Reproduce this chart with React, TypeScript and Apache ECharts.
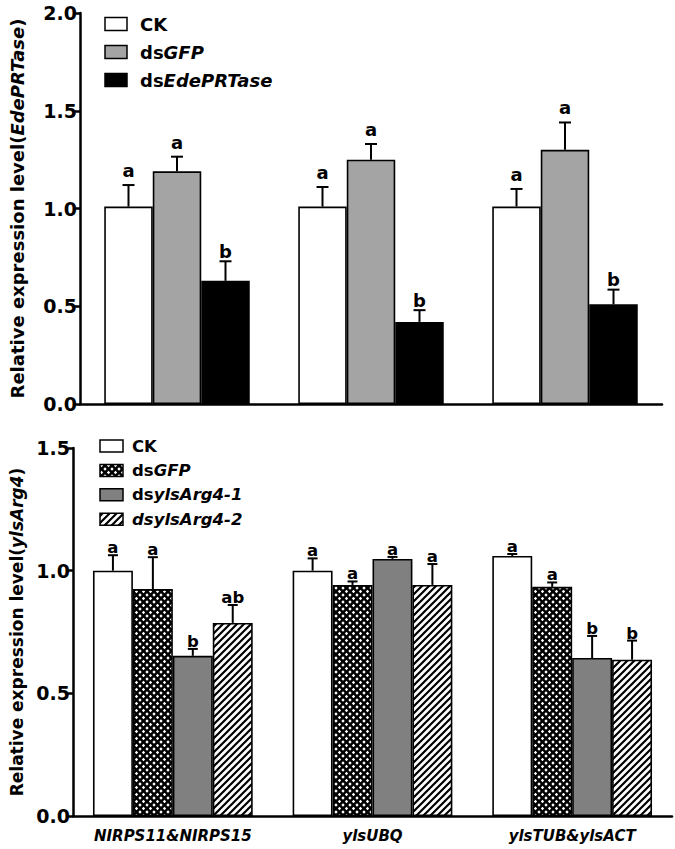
import React, { useEffect, useRef } from 'react';
import * as echarts from 'echarts';

// ---------- Data ----------
const topCategories = ['Group 1', 'Group 2', 'Group 3'];
const topSeriesNames = ['CK', 'dsGFP', 'dsEdePRTase'];
const topLegendLabels = ['{n|CK}', '{n|ds}{i|GFP}', '{n|ds}{i|EdePRTase}'];
const topCK = [1.01, 1.01, 1.01];
const topCKErr = [0.11, 0.1, 0.09];
const topGFP = [1.19, 1.25, 1.3];
const topGFPErr = [0.075, 0.08, 0.14];
const topEde = [0.63, 0.42, 0.51];
const topEdeErr = [0.1, 0.06, 0.075];
const topCKLetters = ['a', 'a', 'a'];
const topGFPLetters = ['a', 'a', 'a'];
const topEdeLetters = ['b', 'b', 'b'];
const topYTicks = [0, 0.5, 1.0, 1.5, 2.0];

const bottomCategories = ['NIRPS11&NIRPS15', 'ylsUBQ', 'ylsTUB&ylsACT'];
const bottomSeriesNames = ['CK', 'dsGFP', 'dsylsArg4-1', 'dsylsArg4-2'];
const bottomLegendLabels = ['{n|CK}', '{n|ds}{i|GFP}', '{n|ds}{i|ylsArg4-1}', '{i|dsylsArg4-2}'];
const botCK = [1.0, 1.0, 1.06];
const botCKErr = [0.063, 0.05, 0.008];
const botGFP = [0.925, 0.942, 0.934];
const botGFPErr = [0.13, 0.014, 0.018];
const botArg1 = [0.653, 1.048, 0.644];
const botArg1Err = [0.028, 0.008, 0.09];
const botArg2 = [0.787, 0.942, 0.637];
const botArg2Err = [0.073, 0.085, 0.078];
const botCKLetters = ['a', 'a', 'a'];
const botGFPLetters = ['a', 'a', 'a'];
const botArg1Letters = ['b', 'a', 'b'];
const botArg2Letters = ['ab', 'a', 'b'];
const bottomYTicks = [0, 0.5, 1.0, 1.5];

const FONT = '"DejaVu Sans", sans-serif';

function makePattern(kind: string) {
  const s = 7;
  const c = document.createElement('canvas');
  c.width = s;
  c.height = s;
  const ctx = c.getContext('2d') as CanvasRenderingContext2D;
  if (kind === 'cross') {
    ctx.fillStyle = '#000';
    ctx.fillRect(0, 0, s, s);
    ctx.fillStyle = '#fff';
    const r = 1.7;
    const pts = [[0, 0], [s, 0], [0, s], [s, s], [s / 2, s / 2]];
    pts.forEach(([px, py]) => {
      ctx.beginPath();
      ctx.moveTo(px, py - r);
      ctx.lineTo(px + r, py);
      ctx.lineTo(px, py + r);
      ctx.lineTo(px - r, py);
      ctx.closePath();
      ctx.fill();
    });
  } else {
    ctx.fillStyle = '#fff';
    ctx.fillRect(0, 0, s, s);
    ctx.strokeStyle = '#000';
    ctx.lineWidth = 2.2;
    ctx.beginPath();
    ctx.moveTo(-1, s + 1);
    ctx.lineTo(s + 1, -1);
    ctx.moveTo(-2, 2);
    ctx.lineTo(2, -2);
    ctx.moveTo(s - 2, s + 2);
    ctx.lineTo(s + 2, s - 2);
    ctx.stroke();
  }
  return { image: c, repeat: 'repeat', imageWidth: s, imageHeight: s } as any;
}

export default function App() {
  const ref = useRef<HTMLDivElement>(null);

  useEffect(() => {
    if (!ref.current) return;
    const chart = echarts.init(ref.current, null, { renderer: 'svg' });

    const crossPat = makePattern('cross');
    const stripePat = makePattern('stripe');

    const topColors = ['#ffffff', '#a4a4a4', '#000000'];
    const botColors = ['#ffffff', crossPat, '#808080', stripePat];

    const topVals = [topCK, topGFP, topEde];
    const topErrs = [topCKErr, topGFPErr, topEdeErr];
    const topLetters = [topCKLetters, topGFPLetters, topEdeLetters];
    const botVals = [botCK, botGFP, botArg1, botArg2];
    const botErrs = [botCKErr, botGFPErr, botArg1Err, botArg2Err];
    const botLetters = [botCKLetters, botGFPLetters, botArg1Letters, botArg2Letters];

    const richStyles = (size: number) => ({
      n: { fontFamily: FONT, fontWeight: 'bold', fontSize: size, color: '#000' },
      i: { fontFamily: FONT, fontWeight: 'bold', fontStyle: 'italic', fontSize: size, color: '#000' },
    });

    const makeErrSeries = (
      axisIdx: number,
      i: number,
      n: number,
      catGap: number,
      vals: number[],
      errs: number[],
      letters: string[],
      cap: number,
      letterSize: number,
      gapFn: (l: string) => number
    ) => ({
      type: 'custom',
      xAxisIndex: axisIdx,
      yAxisIndex: axisIdx,
      silent: true,
      z: 10,
      encode: { x: 0, y: 1 },
      data: vals.map((v, k) => [k, v, errs[k]]),
      renderItem: (params: any, api: any) => {
        const cat = api.value(0);
        const val = api.value(1);
        const err = api.value(2);
        const band = api.size([1, 0])[0];
        const bw = (band * (1 - catGap)) / n;
        const x = api.coord([cat, 0])[0] + (i - (n - 1) / 2) * bw;
        const yTop = api.coord([cat, val])[1];
        const yErr = api.coord([cat, val + err])[1];
        const letter = letters[params.dataIndex];
        return {
          type: 'group',
          children: [
            { type: 'line', shape: { x1: x, y1: yTop, x2: x, y2: yErr }, style: { stroke: '#000', lineWidth: 2 } },
            { type: 'line', shape: { x1: x - cap / 2, y1: yErr, x2: x + cap / 2, y2: yErr }, style: { stroke: '#000', lineWidth: 2 } },
            {
              type: 'text',
              x,
              y: yErr - gapFn(letter) + letterSize * 0.24,
              style: {
                text: letter,
                fill: '#000',
                font: `bold ${letterSize}px ${FONT}`,
                align: 'center',
                verticalAlign: 'bottom',
              },
            },
          ],
        };
      },
    });

    const series: any[] = [];
    topVals.forEach((vals, i) => {
      series.push({
        name: topSeriesNames[i],
        type: 'bar',
        xAxisIndex: 0,
        yAxisIndex: 0,
        data: vals,
        barGap: '0%',
        barCategoryGap: '25%',
        silent: true,
        itemStyle: { color: topColors[i], borderColor: '#000', borderWidth: 1.6 },
      });
    });
    topVals.forEach((vals, i) => {
      series.push(
        makeErrSeries(0, i, 3, 0.25, vals, topErrs[i], topLetters[i], 12, 18, (l) => (l === 'a' ? 10 : 5))
      );
    });
    botVals.forEach((vals, i) => {
      series.push({
        name: bottomSeriesNames[i],
        type: 'bar',
        xAxisIndex: 1,
        yAxisIndex: 1,
        data: vals,
        barGap: '0%',
        barCategoryGap: '20%',
        silent: true,
        itemStyle: { color: botColors[i], borderColor: '#000', borderWidth: 1.6 },
      });
    });
    botVals.forEach((vals, i) => {
      series.push(makeErrSeries(1, i, 4, 0.2, vals, botErrs[i], botLetters[i], 10, 16.5, () => 3));
    });

    const axisLine = { show: true, lineStyle: { color: '#000', width: 2.5 } };
    const yLabel = {
      color: '#000',
      fontFamily: FONT,
      fontWeight: 'bold',
      fontSize: 19,
      margin: 3,
      formatter: (v: number) => v.toFixed(1),
    };

    const graphics: any[] = [];
    topLegendLabels.forEach((lab, i) => {
      const cy = 24 + i * 28;
      graphics.push({
        type: 'rect',
        shape: { x: 105, y: cy - 6.5, width: 22, height: 13 },
        style: { fill: topColors[i], stroke: '#000', lineWidth: 1.5 },
      });
      graphics.push({
        type: 'text',
        x: 140,
        y: cy,
        style: { text: lab, rich: richStyles(18), verticalAlign: 'middle', align: 'left' },
      });
    });
    bottomLegendLabels.forEach((lab, i) => {
      const cy = 446 + i * 24.4;
      graphics.push({
        type: 'rect',
        shape: { x: 100, y: cy - 6, width: 23, height: 12 },
        style: { fill: botColors[i], stroke: '#000', lineWidth: 1.5 },
      });
      graphics.push({
        type: 'text',
        x: 132,
        y: cy,
        style: { text: lab, rich: richStyles(16.5), verticalAlign: 'middle', align: 'left' },
      });
    });

    chart.setOption({
      animation: false,
      backgroundColor: '#fff',
      grid: [
        { left: 72, right: 13, top: 13, bottom: 445 },
        { left: 72, right: 3, top: 448, bottom: 33 },
      ],
      xAxis: [
        {
          type: 'category',
          gridIndex: 0,
          data: topCategories,
          axisLine,
          axisTick: { show: false },
          axisLabel: { show: false },
        },
        {
          type: 'category',
          gridIndex: 1,
          data: bottomCategories,
          axisLine,
          axisTick: { show: false },
          axisLabel: {
            interval: 0,
            color: '#000',
            fontFamily: FONT,
            fontWeight: 'bold',
            fontStyle: 'italic',
            fontSize: 15,
            margin: 12,
          },
        },
      ],
      yAxis: [
        {
          type: 'value',
          gridIndex: 0,
          min: topYTicks[0],
          max: topYTicks[topYTicks.length - 1],
          interval: topYTicks[1] - topYTicks[0],
          axisLine,
          axisTick: { show: true, length: 5, lineStyle: { color: '#000', width: 2.5 } },
          splitLine: { show: false },
          axisLabel: yLabel,
          name: '{n|Relative expression level(}{i|EdePRTase}{n|)}',
          nameLocation: 'middle',
          nameRotate: 90,
          nameGap: 54,
          nameTextStyle: { rich: richStyles(18) },
        },
        {
          type: 'value',
          gridIndex: 1,
          min: bottomYTicks[0],
          max: bottomYTicks[bottomYTicks.length - 1],
          interval: bottomYTicks[1] - bottomYTicks[0],
          axisLine,
          axisTick: { show: true, length: 5, lineStyle: { color: '#000', width: 2.5 } },
          splitLine: { show: false },
          axisLabel: yLabel,
          name: '{n|Relative expression level(}{i|ylsArg4}{n|)}',
          nameLocation: 'middle',
          nameRotate: 90,
          nameGap: 48,
          nameTextStyle: { rich: richStyles(17) },
        },
      ],
      graphic: graphics,
      series,
    });

    return () => {
      chart.dispose();
    };
  }, []);

  return (
    <div
      ref={ref}
      style={{ position: 'absolute', left: 0, top: 0, width: 675, height: 849, background: '#fff' }}
    />
  );
}
